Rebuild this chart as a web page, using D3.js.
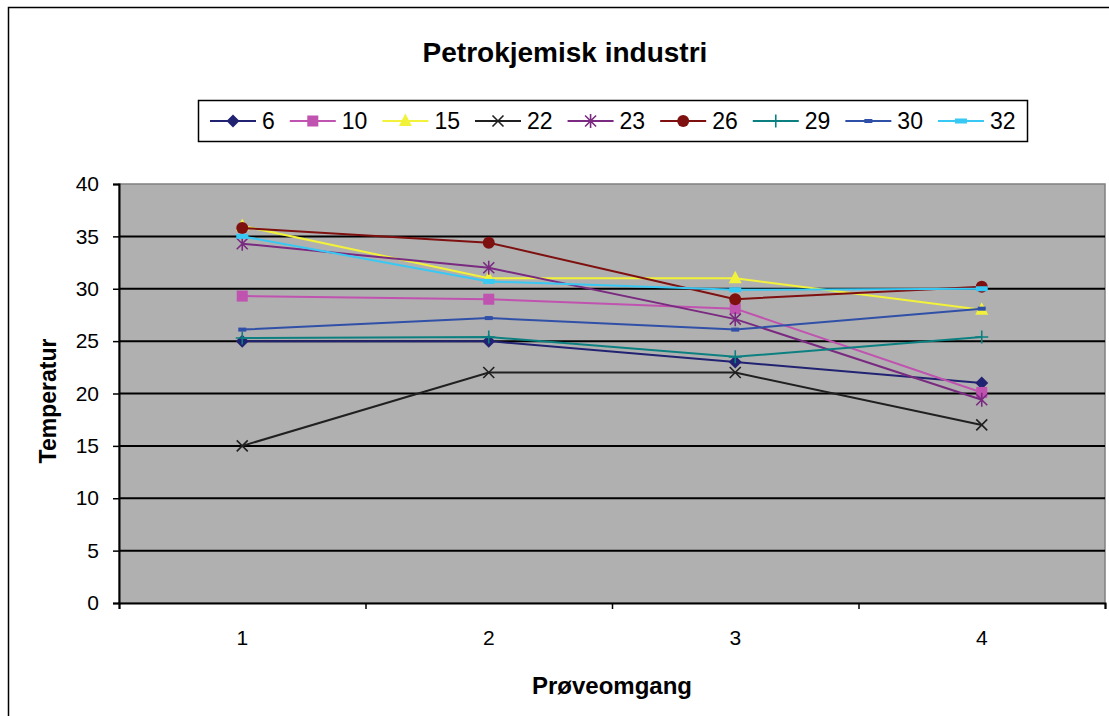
<!DOCTYPE html>
<html>
<head>
<meta charset="utf-8">
<script src="https://cdn.jsdelivr.net/npm/d3@7"></script>
<style>
  html, body { margin: 0; padding: 0; background: #fff; }
  svg { display: block; }
  text { font-family: "Liberation Sans", Arial, sans-serif; fill: #000; }
</style>
</head>
<body>
<svg id="chart" width="1109" height="716"></svg>
<script>
// Sample rounds on the x axis
const rounds = [1, 2, 3, 4];
const yTicks = [0, 5, 10, 15, 20, 25, 30, 35, 40];

// Temperature per sample point, one array per series
const s6  = [25, 25, 23, 21];
const s10 = [29.3, 29, 28.1, 20.1];
const s15 = [36, 31, 31, 28];
const s22 = [15, 22, 22, 17];
const s23 = [34.3, 32, 27.1, 19.4];
const s26 = [35.8, 34.4, 29, 30.2];
const s29 = [25.3, 25.4, 23.5, 25.4];
const s30 = [26.1, 27.2, 26.1, 28.1];
const s32 = [35, 30.7, 29.9, 30];

const seriesNames = ["6", "10", "15", "22", "23", "26", "29", "30", "32"];
const seriesValues = [s6, s10, s15, s22, s23, s26, s29, s30, s32];
const seriesColors = ["#222272", "#c052b0", "#f2f23a", "#202020", "#7a2a80", "#7e1010", "#0c8080", "#3050a8", "#38c8f4"];
const seriesMarkers = ["diamond", "square", "triangle", "x", "star", "circle", "plus", "dash", "wdash"];

const svg = d3.select("#chart");
const FONT = "Liberation Sans, Arial, sans-serif";

// Outer chart frame
svg.append("rect")
  .attr("x", 8.5).attr("y", 7.5)
  .attr("width", 1300).attr("height", 900)
  .attr("fill", "#fff").attr("stroke", "#000").attr("stroke-width", 1.5);

const plot = { left: 119, right: 1105, top: 184, bottom: 603 };

const x = d3.scaleBand().domain(rounds).range([plot.left, plot.right]);
const xc = d => x(d) + x.bandwidth() / 2;
const xEdge = d3.scaleLinear().domain([0.5, 4.5]).range([plot.left, plot.right]);
const y = d3.scaleLinear().domain([0, 40]).range([plot.bottom, plot.top]);

// Plot background
svg.append("rect")
  .attr("x", plot.left).attr("y", plot.top)
  .attr("width", plot.right - plot.left).attr("height", plot.bottom - plot.top)
  .attr("fill", "#b0b0b0")
  .attr("stroke", "#808080").attr("stroke-width", 1.5);

// Horizontal gridlines
svg.append("g")
  .selectAll("line")
  .data(yTicks.filter(v => v > 0 && v < 40))
  .join("line")
  .attr("x1", plot.left).attr("x2", plot.right)
  .attr("y1", d => y(d)).attr("y2", d => y(d))
  .attr("stroke", "#000").attr("stroke-width", 2);

// Y axis
const yAxis = svg.append("g")
  .attr("transform", `translate(${plot.left},0)`)
  .call(d3.axisLeft(y).tickValues(yTicks).tickSize(6).tickPadding(14));
yAxis.select(".domain").attr("stroke", "#000").attr("stroke-width", 2);
yAxis.selectAll(".tick line").attr("stroke", "#000").attr("stroke-width", 1.5);
yAxis.selectAll("text").attr("font-size", 21).attr("font-family", FONT);

// X axis: tick marks on category boundaries
const xTicksG = svg.append("g")
  .attr("transform", `translate(0,${plot.bottom})`)
  .call(d3.axisBottom(xEdge).tickValues([0.5, 1.5, 2.5, 3.5, 4.5]).tickSize(6).tickFormat(""));
xTicksG.select(".domain").attr("stroke", "#000").attr("stroke-width", 2);
xTicksG.selectAll(".tick line").attr("stroke", "#000").attr("stroke-width", 1.5);

// X axis: category labels
const xLabels = svg.append("g")
  .attr("transform", `translate(0,${plot.bottom})`)
  .call(d3.axisBottom(x).tickSize(0).tickPadding(0));
xLabels.select(".domain").remove();
xLabels.selectAll("text")
  .attr("font-size", 21).attr("font-family", FONT)
  .attr("dy", null).attr("y", 42);

// Marker shapes
function drawMarker(g, type, color) {
  switch (type) {
    case "diamond":
      g.append("path").attr("d", "M0,-6.5L6.5,0L0,6.5L-6.5,0Z").attr("fill", color); break;
    case "square":
      g.append("rect").attr("x", -5.5).attr("y", -5.5).attr("width", 11).attr("height", 11).attr("fill", color); break;
    case "triangle":
      g.append("path").attr("d", "M0,-7.5L6.5,5L-6.5,5Z").attr("fill", color); break;
    case "x":
      g.append("path").attr("d", "M-5.5,-5.5L5.5,5.5M-5.5,5.5L5.5,-5.5").attr("stroke", color).attr("stroke-width", 1.6).attr("fill", "none"); break;
    case "star":
      g.append("path").attr("d", "M-5.5,-5.5L5.5,5.5M-5.5,5.5L5.5,-5.5M0,-7L0,7").attr("stroke", color).attr("stroke-width", 1.6).attr("fill", "none"); break;
    case "circle":
      g.append("circle").attr("r", 6).attr("fill", color); break;
    case "plus":
      g.append("path").attr("d", "M-6.5,0L6.5,0M0,-6.5L0,6.5").attr("stroke", color).attr("stroke-width", 1.6).attr("fill", "none"); break;
    case "dash":
      g.append("rect").attr("x", -4).attr("y", -2).attr("width", 8).attr("height", 4).attr("fill", color); break;
    case "wdash":
      g.append("rect").attr("x", -6).attr("y", -2.5).attr("width", 12).attr("height", 5).attr("fill", color); break;
  }
}

const line = d3.line().x((d, i) => xc(rounds[i])).y(d => y(d));

// Series lines and markers
seriesValues.forEach((vals, si) => {
  const g = svg.append("g");
  g.append("path")
    .attr("d", line(vals))
    .attr("fill", "none")
    .attr("stroke", seriesColors[si])
    .attr("stroke-width", 2);
  vals.forEach((v, i) => {
    const mg = g.append("g").attr("transform", `translate(${xc(rounds[i])},${y(v)})`);
    drawMarker(mg, seriesMarkers[si], seriesColors[si]);
  });
});

// Title
svg.append("text")
  .attr("x", 565).attr("y", 62)
  .attr("text-anchor", "middle")
  .attr("font-size", 28).attr("font-weight", "bold")
  .text("Petrokjemisk industri");

// Axis titles
svg.append("text")
  .attr("x", 612).attr("y", 694)
  .attr("text-anchor", "middle")
  .attr("font-size", 24).attr("font-weight", "bold")
  .text("Prøveomgang");

svg.append("text")
  .attr("transform", "translate(56,401) rotate(-90)")
  .attr("text-anchor", "middle")
  .attr("font-size", 23).attr("font-weight", "bold")
  .text("Temperatur");

// Legend
const legend = svg.append("g");
legend.append("rect")
  .attr("x", 198.5).attr("y", 100.5)
  .attr("width", 829).attr("height", 41)
  .attr("fill", "#fff").attr("stroke", "#000").attr("stroke-width", 1.5);

let lx = 210;
const ly = 121;
seriesNames.forEach((name, si) => {
  const item = legend.append("g");
  item.append("line")
    .attr("x1", lx).attr("x2", lx + 46)
    .attr("y1", ly).attr("y2", ly)
    .attr("stroke", seriesColors[si]).attr("stroke-width", 2);
  const mg = item.append("g").attr("transform", `translate(${lx + 23},${ly})`);
  drawMarker(mg, seriesMarkers[si], seriesColors[si]);
  const t = item.append("text")
    .attr("x", lx + 52).attr("y", ly + 8)
    .attr("font-size", 23)
    .text(name);
  const w = t.node().getComputedTextLength();
  lx += 52 + w + 15;
});
</script>
</body>
</html>
